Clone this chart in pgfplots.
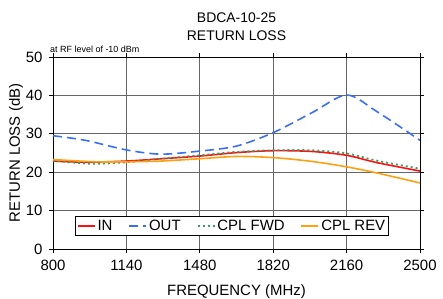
\documentclass[border=0pt]{standalone}
\usepackage{pgfplots}
\pgfplotsset{compat=1.18}
\usepackage{fontspec}
\setmainfont{Liberation Sans}
\usetikzlibrary{calc}
\definecolor{cin}{HTML}{FF1010}
\definecolor{cout}{HTML}{3A6EF5}
\definecolor{cfwd}{HTML}{3C9A64}
\definecolor{crev}{HTML}{FFA010}
\begin{document}
\begin{tikzpicture}
\begin{axis}[
  name=ax,
  scale only axis,
  width=367bp, height=192bp,
  xmin=800, xmax=2500, ymin=0, ymax=50,
  xtick={800,1140,1480,1820,2160,2500},
  ytick={0,10,20,30,40,50},
  grid=major,
  major grid style={gray!80!black, line width=0.8pt},
  axis line style={black, line width=0.8pt},
  tick align=outside,
  major tick length=4bp,
  tick style={black, line width=0.8pt},
  /pgf/number format/assume math mode=true,
  /pgf/number format/1000 sep={},
  tick label style={font=\fontsize{15}{17}\selectfont},
  xticklabel style={yshift=-4bp},
  yticklabel style={xshift=-3bp},
  title={BDCA-10-25\\RETURN LOSS},
  title style={align=center, font=\fontsize{14}{18}\selectfont, yshift=7bp},
  xlabel={FREQUENCY (MHz)},
  ylabel={RETURN LOSS (dB)},
  label style={font=\fontsize{15}{17}\selectfont},
  xlabel style={yshift=-7bp},
  ylabel style={yshift=-4bp},
  legend columns=4,
  legend style={at={(0.488,0.12)}, anchor=center, draw=black, line width=0.6pt,
    font=\fontsize{15}{17}\selectfont, inner sep=1.5pt,
    /tikz/every even column/.append style={column sep=14bp}},
  legend image code/.code={\draw[#1] (0cm,0cm) -- (0.6cm,0cm);},
]
\addplot[cin, line width=1.6pt, smooth] coordinates {
(800,22.9) (950,22.6) (1140,22.9) (1300,23.5) (1480,24.2) (1650,25.1) (1820,25.6) (2000,25.4) (2160,24.4) (2300,22.5) (2500,20.3)};
\addlegendentry{IN}
\addplot[cout, line width=1.6pt, dash pattern=on 9bp off 5bp, smooth] coordinates {
(800,29.5) (950,28.3) (1140,25.8) (1300,24.7) (1480,25.5) (1650,26.8) (1820,30.3) (2000,35.5) (2160,40.1) (2300,35.8) (2500,28.3)};
\addlegendentry{OUT}
\addplot[cfwd, line width=1.8pt, dash pattern=on 2bp off 3bp, smooth] coordinates {
(800,23.0) (980,22.2) (1140,22.6) (1300,23.5) (1480,24.4) (1650,25.3) (1820,25.7) (2000,25.7) (2160,24.9) (2300,23.0) (2500,20.9)};
\addlegendentry{CPL FWD}
\addplot[crev, line width=1.6pt, smooth] coordinates {
(800,23.3) (1000,22.7) (1140,22.7) (1300,22.9) (1480,23.5) (1650,24.1) (1820,23.8) (2000,22.8) (2160,21.4) (2300,19.8) (2500,17.2)};
\addlegendentry{CPL REV}
\end{axis}
\node[anchor=base west, font=\fontsize{9}{10}\selectfont, inner sep=0pt] at ($(ax.north west)+(-3bp,4bp)$) {at RF level of -10 dBm};
\pgfresetboundingbox
\path ($(ax.south west)+(-53bp,-50bp)$) rectangle ++(443bp,299bp);
\end{tikzpicture}
\end{document}
